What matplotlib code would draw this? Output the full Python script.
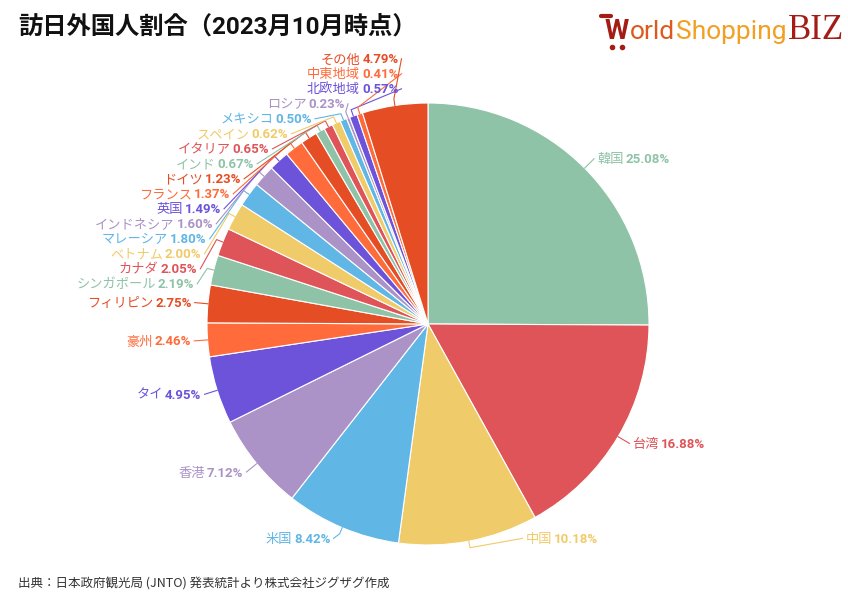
import numpy as np
import matplotlib
matplotlib.use("Agg")
import matplotlib.pyplot as plt

countries = ["韓国", "台湾", "中国", "米国", "香港", "タイ", "豪州", "フィリピン",
             "シンガポール", "カナダ", "ベトナム", "マレーシア", "インドネシア", "英国",
             "フランス", "ドイツ", "インド", "イタリア", "スペイン", "メキシコ", "ロシア",
             "北欧地域", "中東地域", "その他"]
shares = [25.08, 16.88, 10.18, 8.42, 7.12, 4.95, 2.46, 2.75, 2.19, 2.05, 2.00, 1.80,
          1.60, 1.49, 1.37, 1.23, 0.67, 0.65, 0.62, 0.50, 0.23, 0.57, 0.41, 4.79]
palette = ["#8FC3A7", "#DE5458", "#F0CB69", "#60B6E5",
           "#AB92C7", "#6D53D9", "#FF6B3B", "#E54D24"]

title = "訪日外国人割合（2023月10月時点）"
source = "出典：日本政府観光局 (JNTO) 発表統計より株式会社ジグザグ作成"

W, H = 848, 604
CX, CY, RPX = 428, 324, 221   # pie centre / radius in pixels

plt.rcParams["font.family"] = ["Roboto", "Noto Sans CJK JP"]


def px(x, y):
    # pixel position (from top-left) -> data coords of the full-figure axes
    return (x - CX) / RPX, (CY - y) / RPX


def spread(ys, gap, lo, hi):
    # push overlapping labels apart: merge into clusters centred on their mean
    ys = np.asarray(ys, dtype=float)
    clusters = [[i] for i in np.argsort(ys)]

    def start(c):
        s = np.mean(ys[c]) - gap * (len(c) - 1) / 2
        return min(max(s, lo), hi - gap * (len(c) - 1))

    merged = True
    while merged:
        merged = False
        starts = [start(c) for c in clusters]
        for k in range(len(clusters) - 1):
            top = starts[k] + gap * (len(clusters[k]) - 1)
            if top + gap > starts[k + 1] + 1e-9:
                clusters[k] = clusters[k] + clusters.pop(k + 1)
                merged = True
                break
    out = np.empty(len(ys))
    for c in clusters:
        s = start(c)
        for j, i in enumerate(c):
            out[i] = s + gap * j
    return out


fig = plt.figure(figsize=(W / 100, H / 100), dpi=100)
ax = fig.add_axes([0, 0, 1, 1])
colors = [palette[i % len(palette)] for i in range(len(shares))]

wedges, _ = ax.pie(shares, colors=colors, startangle=90, counterclock=False,
                   wedgeprops=dict(edgecolor="white", linewidth=0.8))

mids = np.radians([(w.theta1 + w.theta2) / 2 for w in wedges])
R_LAB = 1.06
nat = R_LAB * np.sin(mids)
side = np.where(np.cos(mids) >= 0, 1, -1)
ylab = np.empty(len(shares))
for s in (1, -1):
    idx = np.where(side == s)[0]
    ylab[idx] = spread(nat[idx], 15 / RPX, -0.97, 1.2)
xlab = side * np.maximum(np.sqrt(np.clip(R_LAB ** 2 - ylab ** 2, 0, None)), 0.12)

renderer = fig.canvas.get_renderer()
pad, gap, base = 3 / RPX, 2 / RPX, 4.6 / RPX
for i, name in enumerate(countries):
    c = colors[i]
    ca, sa = np.cos(mids[i]), np.sin(mids[i])
    ax.plot([ca, 1.03 * ca, xlab[i]], [sa, 1.03 * sa, ylab[i]], color=c, lw=0.8)
    y = ylab[i] - base
    pct = f"{shares[i]:.2f}%"
    if side[i] > 0:
        t = ax.text(xlab[i] + pad, y, name, ha="left", va="baseline", color=c, fontsize=9.5)
        w = t.get_window_extent(renderer).width / RPX
        ax.text(xlab[i] + pad + w + gap, y, pct, ha="left", va="baseline", color=c,
                fontsize=9.5, fontweight="bold")
    else:
        t = ax.text(xlab[i] - pad, y, pct, ha="right", va="baseline", color=c,
                    fontsize=9.5, fontweight="bold")
        w = t.get_window_extent(renderer).width / RPX
        ax.text(xlab[i] - pad - w - gap, y, name, ha="right", va="baseline", color=c,
                fontsize=9.5)

# title and source
ax.text(*px(18, 27), title, ha="left", va="center", fontsize=17.5, fontweight="bold",
        color="#111111")
ax.text(*px(18, 584), source, ha="left", va="center", fontsize=9, color="#333333",
        family="Noto Sans CJK JP")

# logo
logo_red = "#A31D16"
x = 605
for txt, col, size, fam, wt in [("W", logo_red, 20, "Roboto", "bold"),
                                ("orld", "#DD5A1E", 19, "Roboto", "normal"),
                                ("Shopping", "#F2A024", 19, "Roboto", "normal"),
                                ("BIZ", logo_red, 25, "Liberation Serif", "normal")]:
    t = ax.text(*px(x, 39), txt, ha="left", va="baseline", color=col, fontsize=size,
                family=fam, fontweight=wt)
    x += t.get_window_extent(renderer).width + 1
hx, hy = zip(px(601, 16), px(611, 16))
ax.plot(hx, hy, color=logo_red, lw=3, solid_capstyle="round")
for wx in (612, 622):
    ax.plot(*px(wx, 47), "o", color=logo_red, ms=3)

ax.set_xlim((0 - CX) / RPX, (W - CX) / RPX)
ax.set_ylim((CY - H) / RPX, CY / RPX)
ax.set_aspect("auto")
ax.axis("off")

fig.savefig("out.png", dpi=100, facecolor="white")
